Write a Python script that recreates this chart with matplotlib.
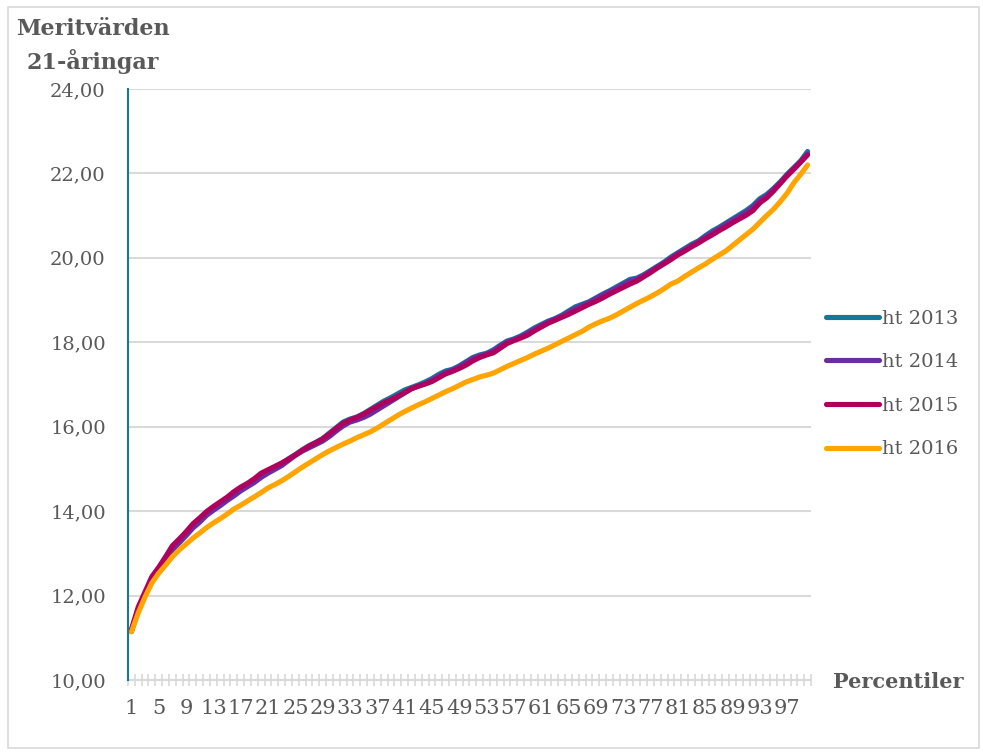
import matplotlib
matplotlib.use("Agg")
import matplotlib.pyplot as plt
from matplotlib.patches import Rectangle
from matplotlib.ticker import FixedLocator, FuncFormatter

percentiles = list(range(1, 101))

ht2013 = [11.15, 11.68, 12.05, 12.42, 12.64, 12.88, 13.14, 13.30, 13.47, 13.66,
          13.80, 13.95, 14.07, 14.18, 14.29, 14.42, 14.53, 14.62, 14.73, 14.86,
          14.95, 15.04, 15.13, 15.24, 15.34, 15.45, 15.55, 15.63, 15.72, 15.85,
          15.98, 16.11, 16.18, 16.23, 16.31, 16.41, 16.51, 16.61, 16.69, 16.78,
          16.87, 16.93, 16.99, 17.06, 17.14, 17.24, 17.32, 17.36, 17.44, 17.54,
          17.64, 17.70, 17.74, 17.82, 17.93, 18.03, 18.08, 18.15, 18.24, 18.34,
          18.42, 18.50, 18.56, 18.64, 18.74, 18.84, 18.90, 18.96, 19.05, 19.14,
          19.22, 19.31, 19.40, 19.49, 19.52, 19.60, 19.70, 19.80, 19.90, 20.02,
          20.12, 20.22, 20.32, 20.40, 20.52, 20.63, 20.72, 20.82, 20.92, 21.02,
          21.12, 21.24, 21.40, 21.50, 21.64, 21.80, 21.98, 22.14, 22.30, 22.52]

ht2014 = [11.15, 11.66, 12.03, 12.40, 12.60, 12.84, 13.08, 13.25, 13.42, 13.60,
          13.74, 13.90, 14.02, 14.13, 14.25, 14.36, 14.48, 14.58, 14.68, 14.80,
          14.90, 14.99, 15.08, 15.20, 15.32, 15.42, 15.50, 15.58, 15.66, 15.77,
          15.90, 16.02, 16.11, 16.16, 16.22, 16.30, 16.40, 16.50, 16.60, 16.70,
          16.80, 16.90, 16.96, 17.02, 17.10, 17.20, 17.29, 17.34, 17.42, 17.52,
          17.62, 17.68, 17.72, 17.80, 17.91, 18.01, 18.06, 18.13, 18.22, 18.31,
          18.40, 18.48, 18.55, 18.62, 18.71, 18.80, 18.87, 18.94, 19.03, 19.12,
          19.20, 19.28, 19.37, 19.45, 19.50, 19.58, 19.68, 19.78, 19.88, 19.99,
          20.10, 20.19, 20.29, 20.38, 20.49, 20.59, 20.69, 20.79, 20.89, 20.98,
          21.08, 21.20, 21.36, 21.46, 21.62, 21.78, 21.96, 22.12, 22.28, 22.46]

ht2015 = [11.20, 11.73, 12.09, 12.45, 12.67, 12.92, 13.18, 13.34, 13.51, 13.70,
          13.84, 13.99, 14.11, 14.22, 14.33, 14.46, 14.57, 14.66, 14.77, 14.90,
          14.98, 15.06, 15.14, 15.23, 15.33, 15.44, 15.54, 15.62, 15.71, 15.83,
          15.96, 16.08, 16.16, 16.22, 16.30, 16.39, 16.48, 16.57, 16.64, 16.72,
          16.81, 16.90, 16.96, 17.01, 17.07, 17.16, 17.25, 17.31, 17.38, 17.46,
          17.56, 17.64, 17.70, 17.75, 17.86, 17.97, 18.04, 18.10, 18.17, 18.27,
          18.36, 18.45, 18.52, 18.59, 18.66, 18.74, 18.82, 18.90, 18.97, 19.05,
          19.14, 19.22, 19.30, 19.38, 19.45, 19.55, 19.65, 19.76, 19.86, 19.96,
          20.07, 20.16, 20.26, 20.35, 20.45, 20.54, 20.64, 20.73, 20.83, 20.92,
          21.01, 21.12, 21.30, 21.42, 21.58, 21.76, 21.94, 22.10, 22.27, 22.44]

ht2016 = [11.14, 11.59, 11.97, 12.30, 12.53, 12.72, 12.92, 13.08, 13.22, 13.36,
          13.48, 13.61, 13.72, 13.82, 13.93, 14.05, 14.14, 14.24, 14.34, 14.44,
          14.55, 14.63, 14.72, 14.82, 14.93, 15.04, 15.14, 15.24, 15.34, 15.43,
          15.51, 15.59, 15.66, 15.74, 15.81, 15.88, 15.97, 16.07, 16.17, 16.27,
          16.36, 16.44, 16.52, 16.59, 16.67, 16.75, 16.83, 16.90, 16.98, 17.06,
          17.12, 17.18, 17.22, 17.27, 17.35, 17.43, 17.50, 17.57, 17.64, 17.72,
          17.79, 17.86, 17.94, 18.02, 18.10, 18.18, 18.26, 18.36, 18.44, 18.51,
          18.57, 18.65, 18.74, 18.83, 18.92, 19.00, 19.08, 19.17, 19.27, 19.38,
          19.45, 19.56, 19.66, 19.76, 19.85, 19.96, 20.06, 20.16, 20.29, 20.42,
          20.55, 20.68, 20.84, 21.00, 21.15, 21.33, 21.53, 21.78, 21.98, 22.20]

series_labels = ["ht 2013", "ht 2014", "ht 2015", "ht 2016"]
series_colors = ["#15789A", "#6A2EA0", "#B0005E", "#FFA400"]
x_label_ticks = list(range(1, 100, 4))
y_ticks = [10, 12, 14, 16, 18, 20, 22, 24]

FONT = "DejaVu Serif"
TXT = "#595959"
GRID = "#D9D9D9"
W, H = 983, 756

plt.rcParams["font.family"] = FONT
fig = plt.figure(figsize=(W / 100, H / 100), dpi=100)
fig.patch.set_facecolor("white")

# chart-area border
fig.patches.append(Rectangle((8 / W, 1 - 748 / H), (979 - 8) / W, (748 - 7) / H,
                             transform=fig.transFigure, fill=False,
                             edgecolor=GRID, linewidth=1.2))

ax = fig.add_axes([128 / W, 1 - 680 / H, (811 - 128) / W, (680 - 89) / H])

for vals, lab, col in zip([ht2013, ht2014, ht2015, ht2016], series_labels, series_colors):
    ax.plot(percentiles, vals, color=col, lw=3.7, label=lab,
            solid_capstyle="round", solid_joinstyle="round", zorder=3)

ax.set_xlim(0.5, 100.5)
ax.set_ylim(10, 24)

ax.set_yticks(y_ticks)
ax.yaxis.set_major_formatter(FuncFormatter(lambda v, p: f"{v:.2f}".replace(".", ",")))
ax.yaxis.grid(True, color=GRID, lw=1.5, zorder=0)
ax.tick_params(axis="y", length=0, pad=16, labelsize=14, labelcolor=TXT)

ax.xaxis.set_major_locator(FixedLocator(x_label_ticks))
ax.set_xticklabels([str(v) for v in x_label_ticks])
ax.xaxis.set_minor_locator(FixedLocator([i + 0.5 for i in range(0, 101)]))
ax.tick_params(axis="x", which="major", length=0, pad=14, labelsize=15, labelcolor=TXT)
ax.tick_params(axis="x", which="minor", length=8, width=1.2, direction="inout", color=GRID)

for s in ["top", "right"]:
    ax.spines[s].set_visible(False)
ax.spines["bottom"].set_color(GRID)
ax.spines["bottom"].set_linewidth(1.5)
ax.spines["left"].set_color("#15789A")
ax.spines["left"].set_linewidth(1.5)
ax.spines["left"].set_zorder(4)

fig.text(93 / W, 1 - 29 / H, "Meritvärden", ha="center", va="center",
         fontsize=16, fontweight="bold", color=TXT)
fig.text(93 / W, 1 - 61 / H, "21-åringar", ha="center", va="center",
         fontsize=16, fontweight="bold", color=TXT)
fig.text(833 / W, 1 - 682 / H, "Percentiler", ha="left", va="center",
         fontsize=15, fontweight="bold", color=TXT)

fig.legend(loc="center left", bbox_to_anchor=(826 / W, 1 - 384 / H), frameon=False,
           fontsize=14, labelcolor=TXT, handlelength=2.7, handletextpad=0.2,
           labelspacing=1.32, borderpad=0, borderaxespad=0)

fig.savefig("out.png", dpi=100)
